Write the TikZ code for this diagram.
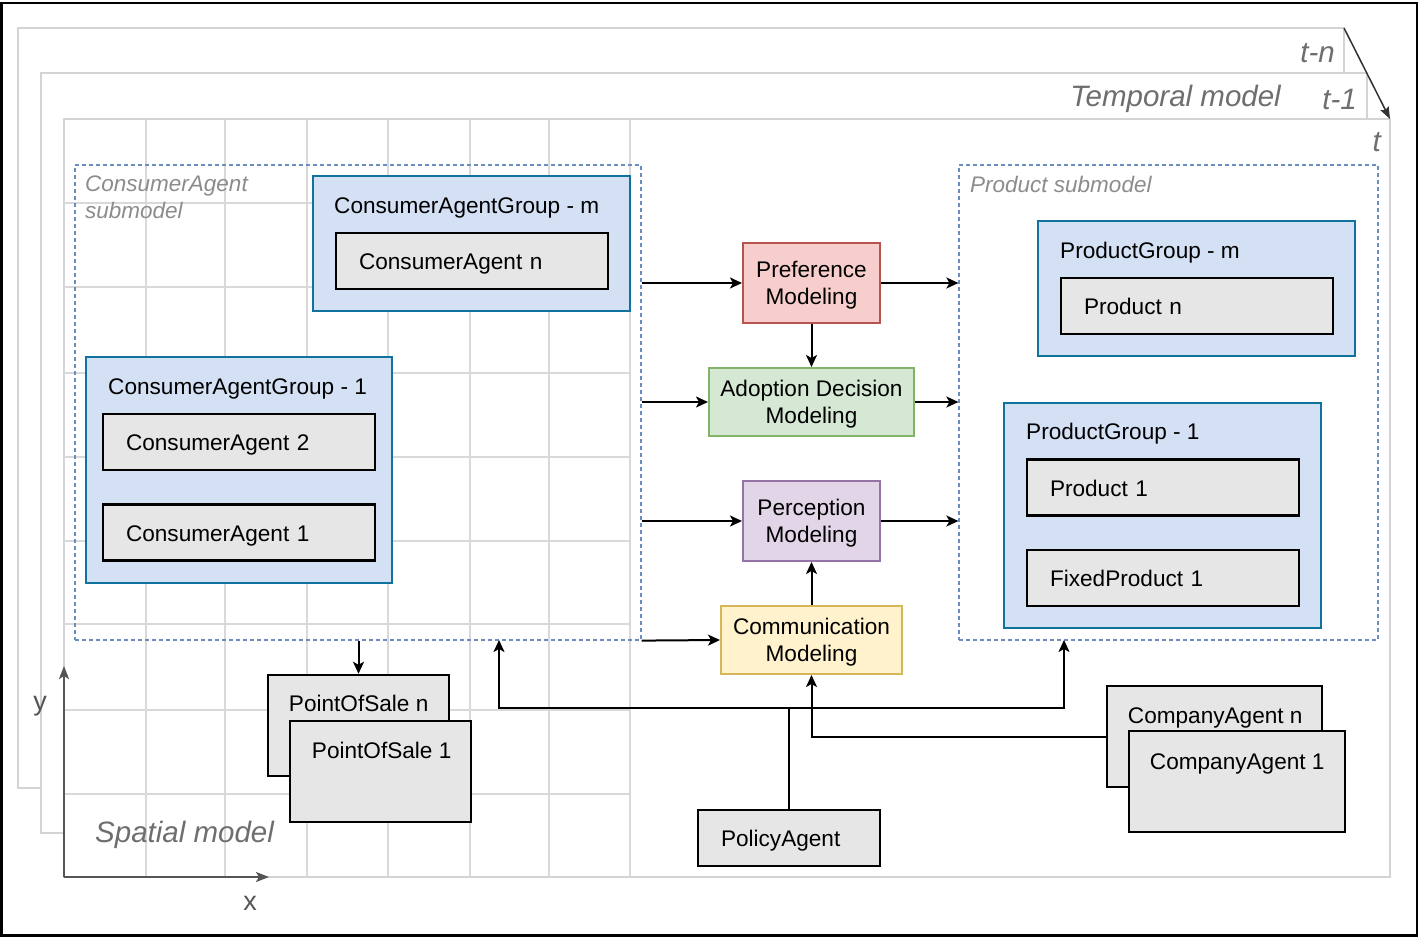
\documentclass[tikz,border=0pt]{standalone}
\usepackage{fontspec}
\setmainfont{Liberation Sans}
\usetikzlibrary{arrows.meta,calc}
\definecolor{layergray}{HTML}{D4D4D4}
\definecolor{gridgray}{HTML}{D9D9D9}
\definecolor{labgray}{HTML}{6E6E6E}
\definecolor{subgray}{HTML}{8C8C8C}
\definecolor{dashblue}{HTML}{6C8EBF}
\definecolor{grpfill}{HTML}{D4E1F5}
\definecolor{grpline}{HTML}{10739E}
\definecolor{boxfill}{HTML}{E6E6E6}
\definecolor{prefF}{HTML}{F8CECC}\definecolor{prefD}{HTML}{B85450}
\definecolor{adoptF}{HTML}{D5E8D4}\definecolor{adoptD}{HTML}{82B366}
\definecolor{percF}{HTML}{E1D5E7}\definecolor{percD}{HTML}{9673A6}
\definecolor{commF}{HTML}{FFF2CC}\definecolor{commD}{HTML}{D6B656}
\definecolor{axisgray}{HTML}{555555}
\tikzset{
  layer/.style={draw=layergray, line width=2.5pt, fill=white},
  gridline/.style={draw=gridgray, line width=2pt},
  txt/.style={font=\fontsize{22.6}{27}\selectfont, inner sep=0pt, text height=17pt, text depth=0pt},
  biglbl/.style={font=\fontsize{29.5}{33}\selectfont\itshape, text=labgray, inner sep=0pt},
  sublbl/.style={font=\fontsize{22.5}{27}\selectfont\itshape, text=subgray, inner sep=0pt, align=left},
  subbox/.style={draw=dashblue, dashed, line width=1.2pt, dash pattern=on 4pt off 3pt, inner sep=0pt},
  grp/.style={draw=grpline, fill=grpfill, line width=2pt, inner sep=0pt},
  innerbox/.style={draw=black, fill=boxfill, line width=2.5pt, minimum width=272pt, text width=226pt, inner xsep=23pt, inner ysep=0pt, minimum height=56pt, align=left, font=\fontsize{22.6}{27}\selectfont, text height=17pt, text depth=0pt},
  stackbox/.style={draw=black, fill=boxfill, line width=2.5pt, inner sep=0pt},
  model/.style={line width=2pt, inner sep=0pt, align=center, font=\fontsize{22.6}{27}\selectfont, text depth=0pt},
  arr/.style={draw=black, line width=2pt, -{Stealth[length=12pt,width=11pt,inset=3pt]}},
  conn/.style={draw=black, line width=2pt},
  axis/.style={draw=axisgray, line width=2pt, -{Stealth[length=13pt,width=10pt,inset=3pt]}},
}
\begin{document}
\begin{tikzpicture}[x=1pt,y=-1pt]
\useasboundingbox (0,0) rectangle (1419,937);
\fill[white] (0,0) rectangle (1419,937);
\draw[black, line width=2.5pt] (1.5,3) rectangle (1417,935.5);

% temporal layers
\draw[layer] (18,28) rectangle (1344,788);
\draw[layer] (41,73) rectangle (1367,833);
\draw[layer] (64,119) rectangle (1390,877);

% grid of the spatial model
\foreach \gx in {146,225,307,388,470,549,630} {\draw[gridline] (\gx,119) -- (\gx,877);}
\foreach \gy in {203,287,373,457,541,624,710,794} {\draw[gridline] (64,\gy) -- (630,\gy);}

% temporal labels
\node[biglbl, anchor=east] (tn) at (1335,53) {t-n};
\node[biglbl, anchor=east] (t1) at (1357,99) {t-1};
\node[biglbl, anchor=east] (tm) at (1281,99) {Temporal model};
\node[biglbl, anchor=east] (t0) at (1381,142) {t};
\coordinate (tarrS) at (1344,28);
\coordinate (tarrE) at (1390,119);
\draw[draw=black!80, line width=1.5pt, -{Stealth[length=12pt,width=9pt,inset=2pt]}] (tarrS) -- (tarrE);

% spatial labels and axes
\node[biglbl, anchor=west] (sm) at (95,835) {Spatial model};
\coordinate (origin) at (64,877);
\coordinate (ytip) at (64,666);
\coordinate (xtip) at (269,877);
\draw[axis] (origin) -- (ytip);
\draw[axis] (origin) -- (xtip);
\node[font=\fontsize{27}{30}\selectfont, text=axisgray, inner sep=0pt] (ylab) at (40,706) {y};
\node[font=\fontsize{27}{30}\selectfont, text=axisgray, inner sep=0pt] (xlab) at (250,903) {x};

% submodels
\node[subbox, minimum width=566pt, minimum height=475pt] (casub) at (358,402.5) {};
\node[sublbl, anchor=north west] (casubl) at (85,175.5) {ConsumerAgent\\submodel};
\node[sublbl, anchor=north west] (prodsubl) at (970,175.5) {Product submodel};
\node[subbox, minimum width=419pt, minimum height=475pt] (prodsub) at (1168.5,402.5) {};

% consumer agent groups
\node[grp, minimum width=317pt, minimum height=135pt] (cagm) at (471.5,243.5) {};
\node[txt, anchor=west] (cagmt) at ([xshift=22pt,yshift=-30pt]cagm.north west) {ConsumerAgentGroup - m};
\node[innerbox] (can) at (472,261) {ConsumerAgent n};

\node[grp, minimum width=306pt, minimum height=226pt] (cag1) at (239,470) {};
\node[txt, anchor=west] (cag1t) at ([xshift=23pt,yshift=-30pt]cag1.north west) {ConsumerAgentGroup - 1};
\node[innerbox] (ca2) at (239,442) {ConsumerAgent 2};
\node[innerbox] (ca1) at (239,532.5) {ConsumerAgent 1};

% product groups
\node[grp, minimum width=317pt, minimum height=135pt] (pgm) at (1196.5,288.5) {};
\node[txt, anchor=west] (pgmt) at ([xshift=23pt,yshift=-30pt]pgm.north west) {ProductGroup - m};
\node[innerbox] (prn) at (1197,306) {Product n};

\node[grp, minimum width=317pt, minimum height=225pt] (pg1) at (1162.5,515.5) {};
\node[txt, anchor=west] (pg1t) at ([xshift=23pt,yshift=-29pt]pg1.north west) {ProductGroup - 1};
\node[innerbox] (pr1) at (1163,487.5) {Product 1};
\node[innerbox] (fp1) at (1163,578) {FixedProduct 1};

% modeling boxes
\node[model, draw=prefD, fill=prefF, minimum width=137pt, minimum height=80pt] (pref) at (811.5,283) {Preference\\Modeling};
\node[model, draw=adoptD, fill=adoptF, minimum width=205pt, minimum height=68pt] (adopt) at (811.5,402) {Adoption Decision\\Modeling};
\node[model, draw=percD, fill=percF, minimum width=137pt, minimum height=80pt] (perc) at (811.5,521) {Perception\\Modeling};
\node[model, draw=commD, fill=commF, minimum width=181pt, minimum height=68pt] (comm) at (811.5,640) {Communication\\Modeling};

% points of sale
\node[stackbox, minimum width=181pt, minimum height=101pt] (posn) at (358.5,725.5) {};
\node[txt, anchor=west] (posnt) at ([xshift=22pt,yshift=-29pt]posn.north west) {PointOfSale n};
\node[stackbox, minimum width=181pt, minimum height=101pt] (pos1) at (380.5,771.5) {};
\node[txt, anchor=west] (pos1t) at ([xshift=23pt,yshift=-30pt]pos1.north west) {PointOfSale 1};

% company agents
\node[stackbox, minimum width=215pt, minimum height=101pt] (compn) at (1214.5,736.5) {};
\node[txt, anchor=west] (compnt) at ([xshift=22pt,yshift=-30pt]compn.north west) {CompanyAgent n};
\node[stackbox, minimum width=216pt, minimum height=101pt] (comp1) at (1237,781.5) {};
\node[txt, anchor=west] (comp1t) at ([xshift=22pt,yshift=-31pt]comp1.north west) {CompanyAgent 1};

% policy agent
\node[innerbox, minimum width=182pt, text width=136pt] (policy) at (789,838) {PolicyAgent};

% connectors
\draw[arr] (casub.east |- pref.west) -- (pref.west);
\draw[arr] (pref.east) -- (prodsub.west |- pref.east);
\draw[arr] (pref.south) -- (adopt.north);
\draw[arr] (casub.east |- adopt.west) -- (adopt.west);
\draw[arr] (adopt.east) -- (prodsub.west |- adopt.east);
\draw[arr] (casub.east |- perc.west) -- (perc.west);
\draw[arr] (perc.east) -- (prodsub.west |- perc.east);
\draw[arr] (casub.south east) -- (comm.west);
\draw[arr] (comm.north) -- (perc.south);
\draw[arr] (posn.north |- casub.south) -- (posn.north);

\coordinate (split) at (789,708);
\coordinate (caIn) at (499,640);
\coordinate (prIn) at (1064,640);
\draw[conn] (policy.north) -- (split);
\draw[arr] (split) -| (caIn);
\draw[arr] (split) -| (prIn);
\draw[arr] (compn.west) -| (comm.south);
\end{tikzpicture}
\end{document}
